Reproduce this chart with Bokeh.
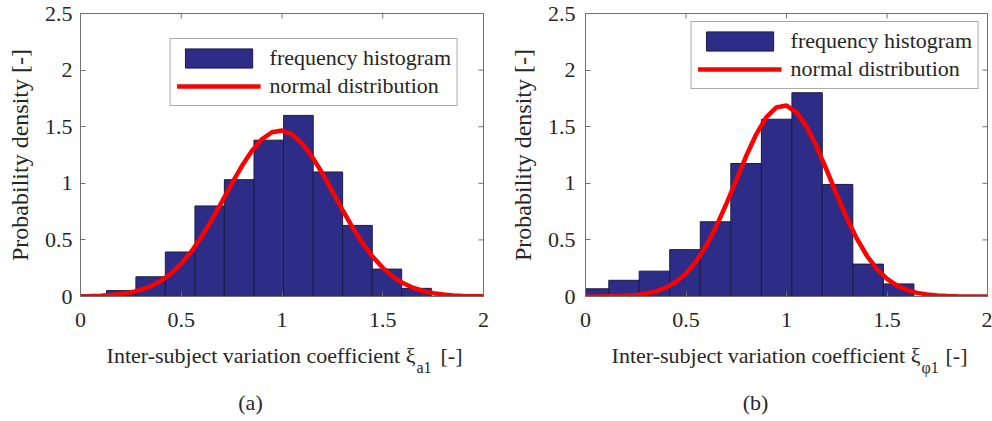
import math
from bokeh.plotting import figure
from bokeh.models import Range1d, Legend, LegendItem, Label
from bokeh.layouts import row, column
from bokeh.embed import file_html
from bokeh.resources import INLINE

# ---------------- data ----------------
x_ticks = [0, 0.5, 1, 1.5, 2]
x_tick_labels = ["0", "0.5", "1", "1.5", "2"]
y_ticks = [0, 0.5, 1, 1.5, 2, 2.5]
y_tick_labels = ["0", "0.5", "1", "1.5", "2", "2.5"]

# panel (a): histogram bin edges and densities
a_edges = [0.129, 0.275, 0.421, 0.568, 0.714, 0.861, 1.008, 1.155, 1.301, 1.448, 1.594, 1.741]
a_density = [0.052, 0.174, 0.393, 0.80, 1.032, 1.381, 1.60, 1.10, 0.628, 0.242, 0.072]

# panel (b): histogram bin edges and densities
b_edges = [-0.036, 0.116, 0.267, 0.419, 0.571, 0.723, 0.875, 1.027, 1.178, 1.330, 1.482, 1.634]
b_density = [0.068, 0.143, 0.224, 0.414, 0.660, 1.175, 1.566, 1.80, 0.99, 0.286, 0.111]

# normal-distribution curves
curve_x = [0.00, 0.05, 0.10, 0.15, 0.20, 0.25, 0.30, 0.35, 0.40, 0.45,
           0.50, 0.55, 0.60, 0.65, 0.70, 0.75, 0.80, 0.85, 0.90, 0.95,
           1.00, 1.05, 1.10, 1.15, 1.20, 1.25, 1.30, 1.35, 1.40, 1.45,
           1.50, 1.55, 1.60, 1.65, 1.70, 1.75, 1.80, 1.85, 1.90, 1.95, 2.00]
a_curve_y = [0.0020, 0.0038, 0.0070, 0.0125, 0.0216, 0.0363, 0.0588, 0.0922, 0.140, 0.205,
             0.290, 0.397, 0.525, 0.672, 0.831, 0.994, 1.150, 1.285, 1.389, 1.451,
             1.466, 1.432, 1.352, 1.234, 1.089, 0.929, 0.766, 0.611, 0.471, 0.351,
             0.253, 0.176, 0.119, 0.0774, 0.0487, 0.0296, 0.0174, 0.0099, 0.0054, 0.0029, 0.0015]
b_curve_y = [0.0003, 0.0007, 0.0015, 0.0032, 0.0067, 0.0132, 0.0250, 0.0453, 0.0783, 0.129,
             0.204, 0.309, 0.446, 0.617, 0.815, 1.029, 1.243, 1.435, 1.584, 1.671,
             1.687, 1.627, 1.501, 1.324, 1.116, 0.900, 0.693, 0.511, 0.360, 0.243,
             0.156, 0.0962, 0.0567, 0.0319, 0.0172, 0.0088, 0.0043, 0.0020, 0.0009, 0.0004, 0.0002]

legend_labels = ["frequency histogram", "normal distribution"]
y_label = "Probability density [-]"
x_label_main = "Inter-subject variation coefficient ξ"
x_label_subs = ["a1", "φ1"]
x_label_unit = "[-]"
captions = ["(a)", "(b)"]

# ---------------- styling ----------------
FONT = "Liberation Serif"
TXT = "#262626"
AX = "#707070"
BAR = "#2d2d87"
BAR_EDGE = "#1b1b45"
RED = "#ff0000"
PLOT_H = 338
TEXT_H = 421 - PLOT_H


def style_axis(ax, ticks, labels, standoff):
    ax.ticker = ticks
    ax.major_label_overrides = {t: s for t, s in zip(ticks, labels)}
    ax.major_tick_in = 5
    ax.major_tick_out = 0
    ax.minor_tick_line_color = None
    ax.axis_line_color = AX
    ax.major_tick_line_color = AX
    ax.major_label_text_font = FONT
    ax.major_label_text_color = TXT
    ax.major_label_text_font_size = "22px"
    ax.major_label_standoff = standoff


def make_panel(edges, density, cy, bl, br, bottom, leg_margin, ystand):
    p = figure(width=496, height=PLOT_H,
               x_range=Range1d(0, 2), y_range=Range1d(0, 2.5),
               output_backend="svg", toolbar_location=None,
               min_border_left=bl, min_border_right=br,
               min_border_top=13, min_border_bottom=PLOT_H - bottom,
               background_fill_color="white", border_fill_color="white",
               outline_line_color=AX)
    p.grid.visible = False

    q = p.quad(left=edges[:-1], right=edges[1:], bottom=0, top=density,
               fill_color=BAR, line_color=BAR_EDGE, line_width=1)
    ln = p.line(curve_x, cy, line_color=RED, line_width=4.5)

    style_axis(p.xaxis[0], x_ticks, x_tick_labels, 16)
    style_axis(p.yaxis[0], y_ticks, y_tick_labels, ystand)
    p.yaxis[0].axis_label = y_label
    p.yaxis[0].axis_label_text_font = FONT
    p.yaxis[0].axis_label_text_font_size = "24px"
    p.yaxis[0].axis_label_text_font_style = "normal"
    p.yaxis[0].axis_label_text_color = TXT
    p.yaxis[0].axis_label_standoff = 9

    # mirrored inward ticks on the top and right edges of the box
    p.scatter(x=x_ticks, y=[y_ticks[-1]] * len(x_ticks), marker="dash", size=10,
              angle=math.pi / 2, line_color=AX, line_width=1)
    p.scatter(x=[x_ticks[-1]] * len(y_ticks), y=y_ticks, marker="dash", size=10,
              line_color=AX, line_width=1)

    legend = Legend(items=[LegendItem(label=legend_labels[0], renderers=[q]),
                           LegendItem(label=legend_labels[1], renderers=[ln])],
                    location="top_right", margin=leg_margin,
                    glyph_width=84, glyph_height=24, spacing=2, padding=6,
                    label_standoff=9,
                    label_text_font=FONT, label_text_font_size="22px",
                    label_text_color=TXT,
                    border_line_color="#555555", border_line_width=1,
                    background_fill_color="white", background_fill_alpha=1)
    p.add_layout(legend)
    return p


pa = make_panel(a_edges, a_density, a_curve_y, 80, 13, 298, 25, 8)
pb = make_panel(b_edges, b_density, b_curve_y, 89, 5, 296, 8, 10)

# strip below the plots holding the x-axis titles (with subscripts) and captions;
# its ranges are in pixels measured from the strip's top-left corner
t = figure(width=992, height=TEXT_H, x_range=Range1d(0, 992), y_range=Range1d(TEXT_H, 0),
           output_backend="svg", toolbar_location=None, x_axis_type=None, y_axis_type=None,
           min_border=0, outline_line_color=None,
           background_fill_color="white", border_fill_color="white")
t.grid.visible = False
common = dict(text_font=FONT, text_color=TXT)
for i, x0 in enumerate([80, 585]):
    t.add_layout(Label(x=x0 + 335, y=17, text=x_label_main, text_align="right",
                       text_baseline="alphabetic", text_font_size="22px", **common))
    t.add_layout(Label(x=x0 + 336, y=29, text=x_label_subs[i], text_align="left",
                       text_baseline="alphabetic", text_font_size="16px", **common))
    t.add_layout(Label(x=x0 + 360, y=17, text=x_label_unit, text_align="left",
                       text_baseline="alphabetic", text_font_size="22px", **common))
    t.add_layout(Label(x=x0 + 170, y=64, text=captions[i], text_align="center",
                       text_baseline="middle", text_font_size="22px", **common))

layout = column(row(pa, pb), t)
open("out.html", "w").write(file_html(layout, INLINE))
